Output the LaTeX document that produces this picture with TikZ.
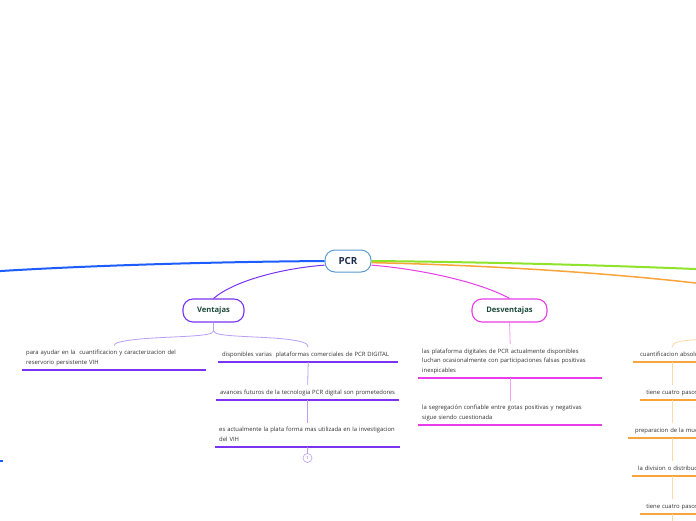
\documentclass[tikz,border=0pt]{standalone}
\usepackage{fontspec}
\setmainfont{Open Sans}
\definecolor{pcrline}{HTML}{5B9BD5}
\definecolor{pcrtext}{HTML}{1C2C4C}
\definecolor{ttext}{HTML}{1D4A3C}
\definecolor{ltext}{HTML}{333333}
\definecolor{bluec}{HTML}{1D5CFF}
\definecolor{purp}{HTML}{7A33F0}
\definecolor{lpurp}{HTML}{B99DF7}
\definecolor{mag}{HTML}{E83DE8}
\definecolor{lmag}{HTML}{F4A0F4}
\definecolor{grn}{HTML}{8FE32A}
\definecolor{orng}{HTML}{F9A43A}
\definecolor{lorng}{HTML}{FCD9A6}
\newcommand{\leaffont}{\fontsize{5.9}{9.5}\selectfont}
\begin{document}
\begin{tikzpicture}[x=1pt,y=-1pt,
  title/.style={draw, line width=1.1pt, rounded corners=10pt, minimum height=23pt,
    inner sep=0pt, font=\fontsize{7.6}{9}\selectfont\bfseries, text=ttext, fill=white},
  leaf/.style={font=\leaffont, text=ltext, align=left, inner xsep=4pt, inner ysep=2.5pt,
    anchor=south west, execute at begin node=\strut, execute at end node=\strut},
  oleaf/.style={font=\leaffont, text=ltext, align=center, inner xsep=4pt, inner ysep=2.5pt,
    anchor=south, execute at begin node=\strut, execute at end node=\strut},
  uline/.style={line width=1.7pt},
  vconn/.style={draw=lpurp, line width=0.8pt},
  dconn/.style={draw=lmag, line width=0.8pt},
  oconn/.style={draw=lorng, line width=0.8pt}]
\useasboundingbox (0,0) rectangle (696,520);
\fill[white] (0,0) rectangle (696,520);

% central node
\node[draw=pcrline, line width=1pt, rounded corners=10pt, minimum width=46pt, minimum height=22pt,
  inner sep=0pt, font=\fontsize{9.8}{10}\selectfont\bfseries, text=pcrtext, fill=white] (pcr) at (348,261) {PCR};

% main branches
\coordinate (bl) at (-4,271.3);
\coordinate (gr) at (700,269.2);
\coordinate (or) at (700,283.5);
\draw[bluec, line width=2pt] (pcr.180) .. controls (200,262) and (80,266) .. (bl);
\draw[grn, line width=2pt] (pcr.0) .. controls (480,262) and (600,265) .. (gr);
\draw[orng, line width=1.5pt] (pcr.-4) .. controls (480,265) and (600,272) .. (or);

% titles
\node[title, draw=purp, minimum width=61pt] (ven) at (213.5,310.5) {Ventajas};
\node[title, draw=mag, minimum width=75pt] (des) at (509.5,310.5) {Desventajas};
\draw[purp, line width=1pt] (pcr.190) .. controls (285,268) and (235,280) .. (ven.north);
\draw[mag, line width=1pt] (pcr.-10) .. controls (420,269) and (480,282) .. (des.north);

% Ventajas leaves
\node[leaf, text width=176pt] (l1) at (22,370) {para ayudar en la\ \ cuantificacion y caracterizacion del\\reservorio persistente VIH};
\node[leaf, text width=172pt] (v2) at (218,362) {disponibles varias\ \ plataformas comerciales de PCR DIGITAL};
\node[leaf, text width=175pt] (v3) at (216,400) {avances futuros de la tecnologia PCR digital son prometedores};
\node[leaf, text width=177pt] (v4) at (215,447) {es actualmente la plata forma mas utilizada en la investigacion\\del VIH};
\foreach \n in {l1,v2,v3,v4} \draw[purp, uline] (\n.south west) -- (\n.south east);
\node[draw=lpurp, circle, line width=0.6pt, inner sep=0pt, minimum size=9pt,
  font=\fontsize{4}{4}\selectfont, text=purp] (one) at (307.5,458) {1};

\draw[vconn] (ven.south) -- (213.5,331) .. controls (213.5,337) and (175,336) .. (140,339)
  .. controls (120,341) and (114,343) .. (l1.north);
\draw[vconn] (213.5,331) .. controls (213.5,337) and (255,336) .. (285,339)
  .. controls (302,341) and (308,343) .. (v2.north);
\draw[vconn] (v2.south) -- (v3.north);
\draw[vconn] (v3.south) -- (v4.north);
\draw[vconn] (v4.south) -- (one.north);

% Desventajas leaves
\node[leaf, text width=176pt] (d1) at (418,378) {las plataforma digitales de PCR actualmente disponibles\\luchan ocasionalmente con participaciones falsas positivas\\inexpicables};
\node[leaf, text width=176pt] (d2) at (418,425) {la segregación confiable entre gotas positivas y negativas\\sigue siendo cuestionada};
\foreach \n in {d1,d2} \draw[mag, uline] (\n.south west) -- (\n.south east);
\draw[dconn] (des.south) -- (d1.north);
\draw[dconn] (d1.south) -- (d2.north);

% orange leaves (partly outside the picture, as in the reference)
\node[oleaf, text width=70pt] (o1) at (672,362) {cuantificacion absoluta};
\node[oleaf, text width=56pt] (o2) at (672,400) {tiene cuatro pasos};
\node[oleaf, text width=80pt] (o3) at (672,438) {preparacion de la muestra};
\node[oleaf, text width=72pt] (o4) at (672,476) {la division o distribucion};
\node[oleaf, text width=56pt] (o5) at (672,514) {tiene cuatro pasos};
\foreach \n in {o1,o2,o3,o4,o5} \draw[orng, uline] (\n.south west) -- (\n.south east);
\coordinate (oin) at (710,339);
\coordinate (oout) at (672,530);
\draw[oconn] (o1.north) .. controls (672,342) and (680,340) .. (oin);
\draw[oconn] (o1.south) -- (o2.north);
\draw[oconn] (o2.south) -- (o3.north);
\draw[oconn] (o3.south) -- (o4.north);
\draw[oconn] (o4.south) -- (o5.north);
\draw[oconn] (o5.south) -- (oout);

% stub of a blue leaf at the left edge
\coordinate (bs1) at (-10,461);
\coordinate (bs2) at (3,461);
\draw[bluec, uline] (bs1) -- (bs2);
\end{tikzpicture}
\end{document}
